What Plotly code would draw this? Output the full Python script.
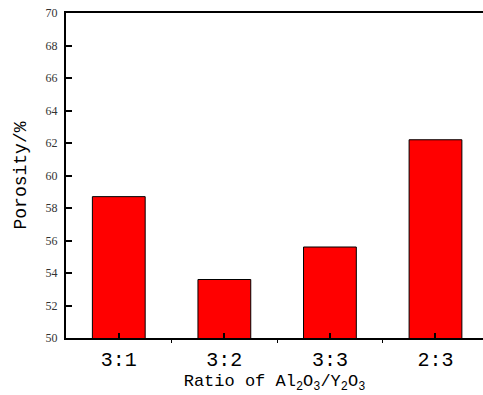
import plotly.graph_objects as go

categories = ["3:1", "3:2", "3:3", "2:3"]
porosity = [58.7, 53.6, 55.6, 62.2]
y_ticks = [50, 52, 54, 56, 58, 60, 62, 64, 66, 68, 70]

x_pos = list(range(len(categories)))
boundaries = [i + 0.5 for i in x_pos[:-1]]

fig = go.Figure()
fig.add_trace(go.Bar(
    x=x_pos, y=porosity, width=0.5,
    marker=dict(color="#FF0000", line=dict(color="black", width=1)),
))

fig.update_layout(
    width=483, height=395,
    margin=dict(l=66, r=0, t=13, b=57, autoexpand=False),
    plot_bgcolor="white", paper_bgcolor="white",
    showlegend=False,
)
fig.update_xaxes(
    range=[-0.5, 3.45], showline=True, linecolor="black", linewidth=2,
    mirror=True, ticks="inside", ticklen=5, tickwidth=2, tickcolor="black",
    tickvals=x_pos, ticktext=categories,
    minor=dict(tickvals=boundaries, ticks="outside", ticklen=3, tickwidth=1, tickcolor="black"),
    ticklabelstandoff=2,
    tickfont=dict(family="Liberation Mono", size=20, color="black"),
    title=dict(text="Ratio of Al<sub>2</sub>O<sub>3</sub>/Y<sub>2</sub>O<sub>3</sub>",
               font=dict(family="Liberation Mono", size=17, color="black"), standoff=0),
    showgrid=False, zeroline=False,
)
fig.update_yaxes(
    range=[50, 70], tickvals=y_ticks, showline=True, linecolor="black", linewidth=2,
    ticks="inside", ticklen=6, tickwidth=2, tickcolor="black",
    ticklabelstandoff=4,
    tickfont=dict(family="Liberation Serif", size=12, color="#333333"),
    title=dict(text="Porosity/%", font=dict(family="Liberation Mono", size=18, color="black"), standoff=14),
    showgrid=False, zeroline=False,
)

fig.write_html(
    "out.html",
    config={"displayModeBar": False},
    post_script="document.documentElement.style.overflow='hidden';"
                "document.body.style.margin='0';document.body.style.overflow='hidden';",
)
